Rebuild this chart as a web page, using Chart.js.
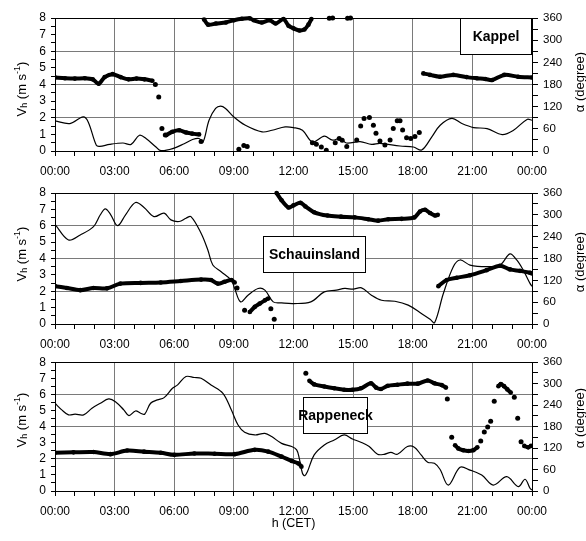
<!DOCTYPE html>
<html><head><meta charset="utf-8">
<script src="https://cdn.jsdelivr.net/npm/chart.js@4"></script>
<style>
html,body{margin:0;padding:0;background:#fff;width:586px;height:541px;overflow:hidden;}
canvas{position:absolute;left:0;}
</style></head><body>
<canvas id="c1" width="586" height="180" style="top:0px"></canvas>
<canvas id="c2" width="586" height="170" style="top:180px"></canvas>
<canvas id="c3" width="586" height="191" style="top:350px"></canvas>
<script>
// ---------------- data ----------------
const hourTicks = [0,3,6,9,12,15,18,21,24];
const speedTickLabels = [0,1,2,3,4,5,6,7,8];
const dirTickLabels = [0,60,120,180,240,300,360];

// Kappel
const kappelSpeedHour = [0,0.75,1.42,1.67,2.08,2.25,2.75,3.42,3.83,4.25,4.58,5.08,5.33,5.92,6.5,6.92,7.25,7.45,7.75,8.08,8.33,8.58,9.0,9.58,10.42,10.92,11.58,12.0,12.45,12.96,13.55,13.97,14.34,14.66,15.35,15.93,16.35,17.36,18.03,18.45,18.96,19.38,19.97,20.47,21.06,21.74,22.5,23.07,23.75,24];
const kappelSpeed = [1.81,1.65,2.05,1.75,0.34,0.28,0.4,0.48,0.4,0.95,0.75,0.24,0.02,0.14,0.44,0.69,0.75,0.55,1.85,2.56,2.7,2.56,2.05,1.55,1.15,1.25,1.45,1.41,1.25,0.54,0.89,0.65,0.76,0.48,0.56,0.4,0.46,0.3,0.24,0.06,0.85,1.55,1.96,1.65,1.41,1.35,0.99,1.25,1.9,1.85];
const kappelBandHours = [
  [0,0.5,1.0,1.5,1.9,2.2,2.5,2.9,3.3,3.7,4.1,4.5,4.9],
  [5.6,5.9,6.25,6.6,6.9,7.25],
  [7.5,7.7,8.1,8.6,9.0,9.4,9.8,10.0,10.4,10.8,11.1,11.5,11.75,12.0,12.3,12.55,12.75,12.9],
  [18.53,18.87,19.37,20.04,20.71,21.22,21.65,22.0,22.6,23.3,24]
];
const kappelBandDeg = [
  [199,197,196,197,194,182,200,208,200,194,196,194,190],
  [43,52,56,50,47,45],
  [356,342,345,348,354,358,359,354,348,354,345,357,339,332,326,329,342,357],
  [210,206,201,206,200,197,195,192,206,201,199]
];
const kappelDotHours = [5.05,5.22,5.38,5.55,7.35,9.25,9.5,9.67,12.95,13.15,13.4,13.65,13.8,13.97,14.1,14.3,14.45,14.68,14.72,14.87,15.18,15.38,15.55,15.82,16.02,16.15,16.35,16.6,16.86,17.02,17.22,17.36,17.49,17.69,17.9,18.11,18.33];
const kappelDotDeg = [180,146,61,43,26,5,15,12,22,18,11,2,359,360,22,34,29,12,359,360,30,68,88,91,70,48,27,16,30,61,82,82,57,36,34,39,50];

// Schauinsland
const schSpeedHour = [0,0.68,1.27,1.94,2.28,2.53,2.79,3.15,3.55,4.05,4.48,4.98,5.49,5.83,6.25,6.59,6.84,7.35,7.69,7.94,8.36,8.87,9.04,9.34,9.71,10.22,10.56,10.98,11.4,12.0,12.87,13.55,14.16,14.58,15.0,15.42,15.92,16.43,17.1,17.77,18.45,18.87,19.1,19.54,20.04,20.38,20.88,21.72,22.39,22.89,23.23,23.56,23.9,24];
const schSpeed = [6.09,5.13,5.44,5.95,6.67,7.03,6.7,6.01,6.67,7.42,7.12,6.56,6.77,6.36,6.26,6.46,6.56,5.54,4.52,3.6,3.19,2.68,2.17,1.35,1.76,2.17,2.07,1.35,1.29,1.25,1.35,1.96,2.07,2.17,2.13,2.21,1.76,1.45,1.39,1.15,0.63,0.29,0.08,1.86,3.5,3.91,3.6,3.5,3.6,4.28,3.91,3.29,2.48,2.3];
const schBandHours = [
  [0,0.6,1.27,1.94,2.62,3.29,4.31,5.32,6.33,7.35,7.85,8.19,8.53,8.87,9.04],
  [9.8,10.05,10.3,10.56,10.73],
  [11.15,11.4,11.75,12.0,12.35,12.6,13.04,13.71,14.39,15.08,15.76,16.26,16.77,17.44,18.08,18.36,18.62,18.87,19.12,19.26],
  [19.29,19.71,20.21,20.88,21.72,22.39,22.89,23.4,23.9,24]
];
const schBandDeg = [
  [104,99,93,99,98,111,113,114,118,122,121,111,116,121,114],
  [33,47,56,65,70],
  [360,340,320,326,333,323,307,298,295,293,288,284,288,289,293,309,314,305,298,300],
  [104,121,127,134,148,160,150,146,141,139]
];
const schDotHours = [9.16,9.54,10.86,11.03];
const schDotDeg = [99,38,42,13];

// Rappeneck
const rapSpeedHour = [0,0.34,0.68,1.01,1.44,1.86,2.28,2.7,3.04,3.46,3.72,4.05,4.31,4.51,4.81,5.15,5.49,5.91,6.17,6.59,7.01,7.35,7.85,8.45,8.87,9.21,9.54,10.05,10.56,10.9,11.4,11.91,12.16,12.29,12.45,12.57,12.7,13.04,13.55,14.05,14.55,14.97,15.39,15.81,16.23,16.56,16.9,17.23,17.73,18.08,18.42,18.75,19.09,19.37,19.79,20.38,20.88,21.47,22.05,22.73,23.31,23.65,23.9,24];
const rapSpeed = [5.45,5.04,4.73,4.77,4.73,5.14,5.45,5.72,5.55,5.04,4.68,4.97,4.83,4.77,5.45,5.66,5.8,6.38,6.59,7.11,7.05,7.0,6.59,6.07,5.04,4.1,3.65,3.48,3.58,3.38,2.96,2.76,2.55,2.03,1.1,0.95,1.2,2.24,2.86,3.17,3.48,3.23,3.03,2.76,2.28,2.28,2.4,2.28,2.76,2.72,2.24,1.79,1.72,1.35,0.37,1.47,1.3,0.99,0.37,0.89,0.27,0.73,0.17,0.06];
const rapBandHours = [
  [0,0.93,1.94,2.79,3.63,4.48,5.32,6.0,7.01,8.03,9.04,10.05,10.73,11.4,11.91,12.25,12.4],
  [12.8,13.04,13.55,14.05,14.55,14.97,15.39,15.9,16.15,16.4,16.74,17.23,17.73,18.25,18.75,19.09,19.46,19.67],
  [20.13,20.29,20.54,20.8,21.05,21.25],
  [22.31,22.43,22.59,22.76,22.93],
  [23.61,23.81,23.95]
];
const rapBandDeg = [
  [107,108,109,103,113,110,107,101,105,104,103,115,110,96,84,77,68],
  [308,298,292,287,283,283,287,301,289,285,294,297,300,300,309,301,296,289],
  [128,119,114,112,114,122],
  [293,299,293,284,275],
  [126,122,126]
];
const rapDotHours = [12.62,19.74,19.96,21.42,21.6,21.77,21.92,22.1,23.11,23.28,23.45];
const rapDotDeg = [329,257,150,140,165,179,195,251,262,203,138];

// ---------------- drawing ----------------
const FONT = "'Liberation Sans', Arial, Helvetica, sans-serif";
Chart.defaults.font.family = FONT;
Chart.defaults.font.size = 12;
Chart.defaults.color = '#000';

function pts(h, v) { return h.map((x, i) => ({x: x, y: v[i]})); }
function hh(v) { const n = v % 24; return (n < 10 ? '0' : '') + n + ':00'; }

function drawRot(ctx, parts, cx, cy) {
  ctx.save();
  ctx.translate(cx, cy);
  ctx.rotate(-Math.PI / 2);
  ctx.textBaseline = 'middle';
  ctx.textAlign = 'left';
  ctx.fillStyle = '#000';
  let w = 0;
  parts.forEach(p => { ctx.font = p[1]; w += ctx.measureText(p[0]).width; });
  let x = -w / 2;
  parts.forEach(p => { ctx.font = p[1]; ctx.fillText(p[0], x, p[2]); x += ctx.measureText(p[0]).width; });
  ctx.restore();
}

const decor = {
  id: 'decor',
  afterDatasetsDraw(chart, args, o) {
    const {ctx, chartArea: a, scales} = chart;
    ctx.save();
    const x0 = Math.round(scales.x.getPixelForValue(o.box[0]));
    const x1 = Math.round(scales.x.getPixelForValue(o.box[1]));
    const y0 = Math.round(scales.y.getPixelForValue(o.box[3]));
    const y1 = Math.round(scales.y.getPixelForValue(o.box[2]));
    ctx.fillStyle = '#fff';
    ctx.fillRect(x0, y0, x1 - x0, y1 - y0);
    ctx.strokeStyle = '#000';
    ctx.lineWidth = 1;
    ctx.strokeRect(x0 + 0.5, y0 + 0.5, x1 - x0 - 1, y1 - y0 - 1);
    ctx.fillStyle = '#000';
    ctx.font = 'bold 14px ' + FONT;
    ctx.textAlign = 'center';
    ctx.textBaseline = 'middle';
    ctx.fillText(o.label, (x0 + x1) / 2, (y0 + y1) / 2 + 1);
    // top frame line
    ctx.beginPath();
    ctx.moveTo(a.left, Math.round(a.top) + 0.5);
    ctx.lineTo(a.right, Math.round(a.top) + 0.5);
    ctx.stroke();
    ctx.restore();
  },
  afterDraw(chart, args, o) {
    const ctx = chart.ctx;
    const big = '13px ' + FONT, small = '9px ' + FONT;
    drawRot(ctx, [['V', big, 0], ['h', small, 3], [' (m s', big, 0], ['-1', small, -4], [')', big, 0]], 22, o.leftY);
    drawRot(ctx, [['\u03b1 (degree)', big, 0]], 580, o.rightY);
  }
};

function makePanel(id, padTop, xHeight, speedH, speedV, bandH, bandD, dotH, dotD, label, box, leftY, rightY, showTitle) {
  const datasets = [];
  datasets.push({data: pts(speedH, speedV), yAxisID: 'y', showLine: true, borderColor: '#000', borderWidth: 1.2, pointRadius: 0, tension: 0.35, order: 2});
  bandH.forEach((h, i) => {
    datasets.push({data: pts(h, bandD[i]), yAxisID: 'y2', showLine: true, borderColor: '#000', borderWidth: 4, tension: 0.3,
      pointRadius: 2.3, pointBackgroundColor: '#000', pointBorderWidth: 0, order: 1, clip: {left: 0, right: 0, top: 3, bottom: 0}});
  });
  datasets.push({data: pts(dotH, dotD), yAxisID: 'y2', showLine: false, pointRadius: 2.5, pointBackgroundColor: '#000', pointBorderWidth: 0, order: 1,
    clip: {left: 0, right: 0, top: 3, bottom: 0}});

  new Chart(document.getElementById(id), {
    type: 'scatter',
    data: {datasets},
    options: {
      responsive: false,
      animation: false,
      layout: {padding: {top: padTop, left: 0, right: 0, bottom: 0}},
      plugins: {legend: {display: false}, tooltip: {enabled: false},
        decor: {label: label, box: box, leftY: leftY, rightY: rightY}},
      scales: {
        x: {
          type: 'linear', min: 0, max: 24,
          afterFit: s => { s.height = xHeight; },
          ticks: {stepSize: 1, autoSkip: false, maxRotation: 0, padding: 8, font: {size: 12},
            callback: v => (hourTicks.includes(v) ? hh(v) : '')},
          grid: {color: c => (c.tick && c.tick.value % 3 === 0 && c.tick.value > 0 && c.tick.value < 24) ? '#7a7a7a' : 'rgba(0,0,0,0)',
            tickColor: '#000', tickLength: 5, lineWidth: 1},
          border: {display: true, color: '#000', width: 1},
          title: {display: showTitle, text: 'h (CET)', font: {size: 12.5}, padding: {top: 0, bottom: 10}}
        },
        y: {
          position: 'left', min: 0, max: 8,
          afterFit: s => { s.width = 55; },
          ticks: {stepSize: 0.5, autoSkip: false, padding: 5, font: {size: 12},
            callback: v => (speedTickLabels.includes(v) ? String(v) : '')},
          grid: {color: c => (c.tick && [2, 4, 6].includes(c.tick.value)) ? '#7a7a7a' : 'rgba(0,0,0,0)',
            tickColor: '#000', tickLength: 4, lineWidth: 1},
          border: {display: true, color: '#000', width: 1}
        },
        y2: {
          position: 'right', min: 0, max: 360,
          afterFit: s => { s.width = 54; },
          ticks: {stepSize: 30, autoSkip: false, padding: 5, font: {size: 11.5},
            callback: v => (dirTickLabels.includes(v) ? String(v) : '')},
          grid: {drawOnChartArea: false, tickColor: '#000', tickLength: 6},
          border: {display: true, color: '#000', width: 1}
        }
      }
    },
    plugins: [decor]
  });
}

makePanel('c1', 18, 29, kappelSpeedHour, kappelSpeed, kappelBandHours, kappelBandDeg, kappelDotHours, kappelDotDeg,
  'Kappel', [20.38, 24, 5.77, 8], 89, 82, false);
makePanel('c2', 13, 26, schSpeedHour, schSpeed, schBandHours, schBandDeg, schDotHours, schDotDeg,
  'Schauinsland', [10.47, 15.65, 3.13, 5.4], 74, 82, false);
makePanel('c3', 12, 50, rapSpeedHour, rapSpeed, rapBandHours, rapBandDeg, rapDotHours, rapDotDeg,
  'Rappeneck', [12.48, 15.75, 3.53, 5.83], 70, 68, true);
</script>
</body></html>
